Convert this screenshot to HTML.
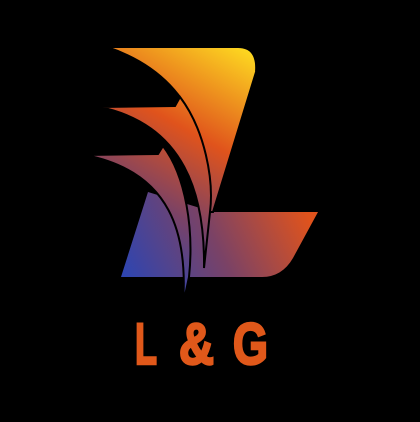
<!DOCTYPE html>
<html><head><meta charset="utf-8"><style>
html,body{margin:0;padding:0;background:#000;}
svg{display:block}
</style></head><body>
<svg width="420" height="422" viewBox="0 0 420 422">
<defs>
<linearGradient id="g" x1="130" y1="280" x2="260" y2="50" gradientUnits="userSpaceOnUse">
<stop offset="0" stop-color="#2f45b0"/>
<stop offset="0.3" stop-color="#7a4266"/>
<stop offset="0.6" stop-color="#e0531c"/>
<stop offset="1" stop-color="#ffe021"/>
</linearGradient>
<linearGradient id="gb" x1="130" y1="285" x2="300" y2="200" gradientUnits="userSpaceOnUse">
<stop offset="0" stop-color="#2f45b0"/>
<stop offset="0.5" stop-color="#7a4266"/>
<stop offset="1" stop-color="#e0531c"/>
</linearGradient>
</defs>
<rect width="420" height="422" fill="#000"/>
<path d="M148,192 L121,277 L262,277 Q282,277 293,258 L318,212 L213,212 Z" fill="url(#gb)"/>
<path d="M107,47 L238,47 Q258,47 256,72 L213,212 L208,212 C212,140 190,75 107,47 Z" fill="url(#g)" stroke="#000" stroke-width="2"/>
<path d="M100,107 L175,106 L180,97 C205,130 214,180 210,212 L204,268 C205,195 185,125 100,107 Z" fill="url(#g)" stroke="#000" stroke-width="2"/>
<path d="M85,155 L158,154 L163,146 C186,176 194,230 189,277 L183,305 C188,235 172,172 85,155 Z" fill="url(#g)" stroke="#000" stroke-width="2"/>
<g fill="#e0581a" stroke="#e0581a" stroke-width="2.5" font-family="'Liberation Sans', sans-serif" font-weight="bold" font-size="58">
<text x="135" y="364" textLength="22" lengthAdjust="spacingAndGlyphs">L</text>
<text x="179" y="364" textLength="35" lengthAdjust="spacingAndGlyphs">&amp;</text>
<text x="233" y="364" textLength="35" lengthAdjust="spacingAndGlyphs">G</text>
</g>
</svg>
</body></html>
